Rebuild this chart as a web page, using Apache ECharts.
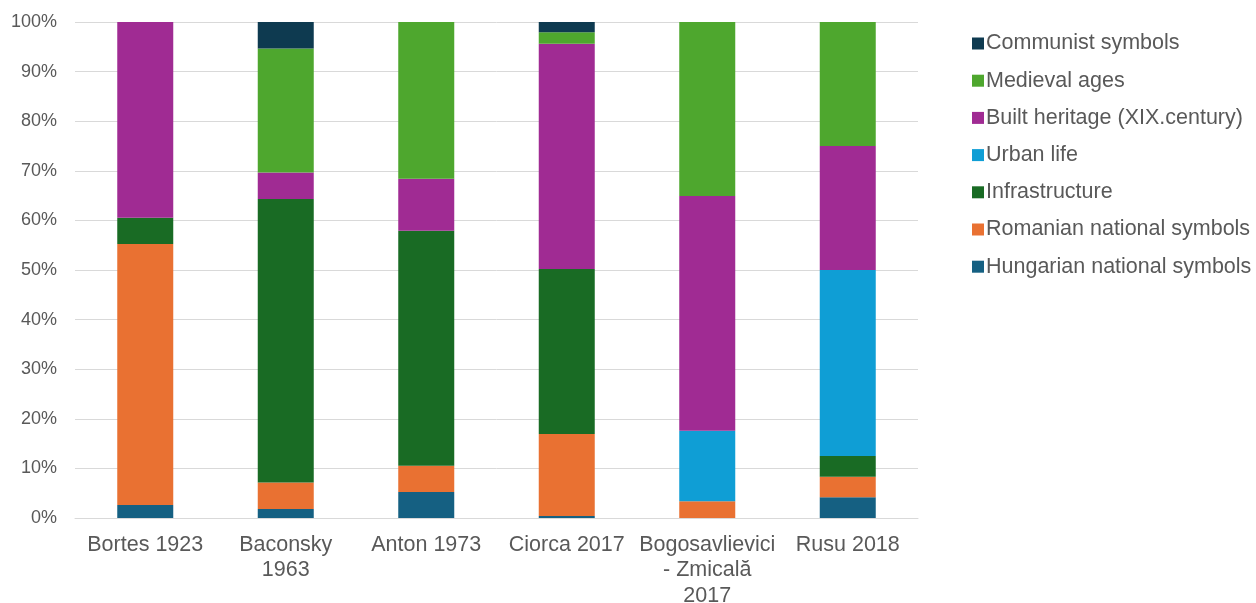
<!DOCTYPE html>
<html>
<head>
<meta charset="utf-8">
<script src="https://cdn.jsdelivr.net/npm/echarts@6/dist/echarts.min.js"></script>
<style>
html,body{margin:0;padding:0;background:#fff;overflow:hidden;}
#chart{width:1256px;height:603px;}
</style>
</head>
<body>
<div id="chart"></div>
<script>
const categories = ['Bortes 1923', 'Baconsky\n1963', 'Anton 1973', 'Ciorca 2017', 'Bogosavlievici\n- Zmicală\n2017', 'Rusu 2018'];
const yTicks = [0, 10, 20, 30, 40, 50, 60, 70, 80, 90, 100];

const hungarian = [2.63, 1.79, 5.26, 0.42, 0, 4.17];
const romanian = [52.63, 5.36, 5.26, 16.5, 3.4, 4.17];
const infrastructure = [5.26, 57.14, 47.37, 33.3, 0, 4.17];
const urbanLife = [0, 0, 0, 0, 14.2, 37.5];
const builtHeritage = [39.47, 5.36, 10.53, 45.4, 47.3, 25];
const medieval = [0, 25, 31.58, 2.3, 35.1, 25];
const communist = [0, 5.36, 0, 2.1, 0, 0];

const seriesDefs = [
  ['Hungarian national symbols', hungarian, '#156082'],
  ['Romanian national symbols', romanian, '#e97132'],
  ['Infrastructure', infrastructure, '#196b24'],
  ['Urban life', urbanLife, '#0f9ed5'],
  ['Built heritage (XIX.century)', builtHeritage, '#a02b93'],
  ['Medieval ages', medieval, '#4ea72e'],
  ['Communist symbols', communist, '#0e3a50']
];

const font = '"Liberation Sans", Arial, sans-serif';
const chart = echarts.init(document.getElementById('chart'), null, {renderer: 'canvas', width: 1256, height: 603});
chart.setOption({
  animation: false,
  backgroundColor: '#ffffff',
  grid: {left: 75, width: 843, top: 22, height: 496, containLabel: false, outerBoundsMode: 'none'},
  legend: {
    orient: 'vertical',
    left: 972,
    top: 31.5,
    padding: 0,
    itemGap: 13.2,
    itemWidth: 12,
    itemHeight: 12,
    icon: 'rect',
    data: seriesDefs.map(d => d[0]).reverse(),
    textStyle: {fontSize: 21.5, color: '#595959', fontFamily: font, lineHeight: 24, padding: [0, 0, 0, -3]}
  },
  xAxis: {
    type: 'category',
    data: categories,
    axisTick: {show: false},
    axisLine: {lineStyle: {color: '#d9d9d9', width: 1}},
    axisLabel: {fontSize: 21.5, color: '#595959', fontFamily: font, lineHeight: 25.5, margin: 14, interval: 0}
  },
  yAxis: {
    type: 'value',
    min: 0,
    max: 100,
    interval: 10,
    axisLine: {show: false},
    axisTick: {show: false},
    splitLine: {lineStyle: {color: '#d9d9d9', width: 1}},
    axisLabel: {fontSize: 18, color: '#595959', fontFamily: font, margin: 18, formatter: v => yTicks.includes(v) ? v + '%' : ''}
  },
  series: seriesDefs.map(([name, data, color]) => ({
    name: name,
    type: 'bar',
    stack: 'total',
    barWidth: 56,
    data: data,
    itemStyle: {color: color}
  }))
});
</script>
</body>
</html>
